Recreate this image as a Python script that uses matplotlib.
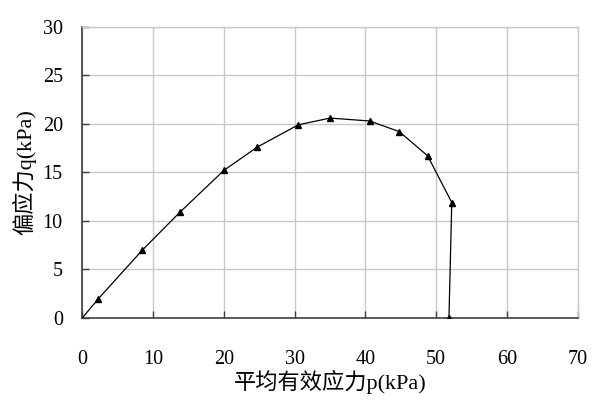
import matplotlib
matplotlib.use("Agg")
import matplotlib.pyplot as plt

# mean effective stress p and deviator stress q (kPa), first point is the origin (no marker)
p_vals = [0, 2.3, 8.5, 13.8, 20.0, 24.7, 30.5, 35.0, 40.6, 44.8, 48.8, 52.2, 51.8]
q_vals = [0, 2.0, 7.0, 10.9, 15.2, 17.6, 19.9, 20.6, 20.3, 19.2, 16.7, 11.9, 0.0]

x_ticks = [0, 10, 20, 30, 40, 50, 60, 70]
y_ticks = [0, 5, 10, 15, 20, 25, 30]

num_font = "Liberation Serif"
label_font = ["Liberation Serif", "Noto Sans CJK SC", "DejaVu Sans"]

fig = plt.figure(figsize=(6.0, 4.13), dpi=100)
ax = fig.add_axes([0.137, 0.230, 0.826, 0.705])

ax.plot(p_vals, q_vals, color="black", linewidth=0.9,
        marker="^", markersize=5, markevery=list(range(1, len(p_vals))),
        markerfacecolor="black", markeredgecolor="black", zorder=3)

ax.set_xlim(0, 70)
ax.set_ylim(0, 30)
ax.set_xticks(x_ticks)
ax.set_yticks(y_ticks)
ax.grid(True, color="#c8c8c8", linewidth=1.0)
ax.set_axisbelow(True)

for side in ["top", "right"]:
    ax.spines[side].set_color("#c8c8c8")
    ax.spines[side].set_linewidth(1.0)
for side in ["left", "bottom"]:
    ax.spines[side].set_color("#404040")
    ax.spines[side].set_linewidth(1.2)

ax.tick_params(direction="in", length=5, width=1.0, color="#404040")
ax.tick_params(axis="y", pad=14)
ax.tick_params(axis="x", pad=23)
for lbl in ax.get_xticklabels() + ax.get_yticklabels():
    lbl.set_fontfamily(num_font)
    lbl.set_fontsize(14.5)

ax.set_xlabel("平均有效应力p(kPa)", fontsize=16, family=label_font)
ax.set_ylabel("偏应力q(kPa)", fontsize=16, family=label_font)
ax.xaxis.set_label_coords(0.5, -0.22)
ax.yaxis.set_label_coords(-0.117, 0.5)
ax.yaxis.label.set_va("center")
ax.xaxis.label.set_va("center")

fig.savefig("out.png", dpi=100)
